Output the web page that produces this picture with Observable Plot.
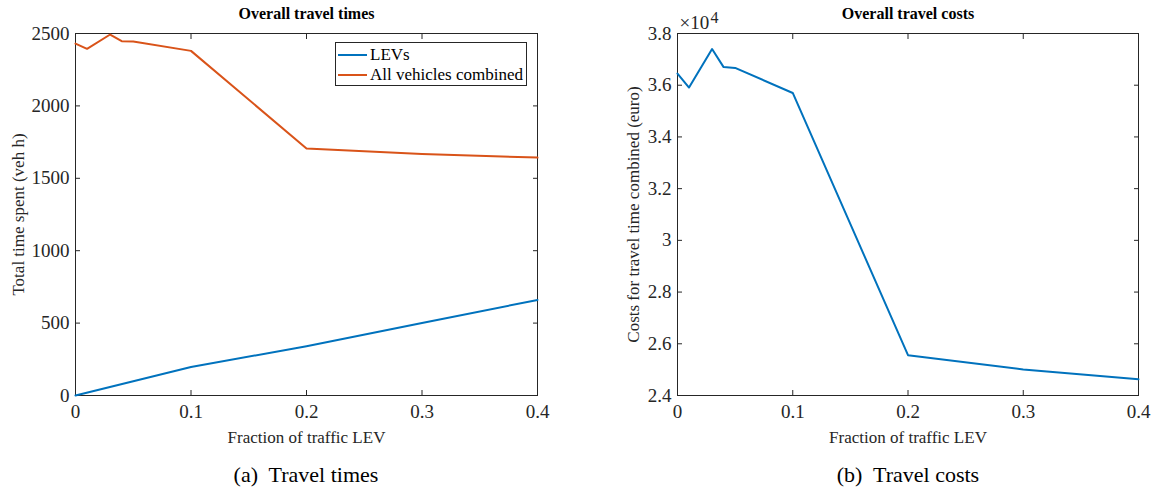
<!DOCTYPE html>
<html>
<head>
<meta charset="utf-8">
<script src="https://cdn.jsdelivr.net/npm/d3@7"></script>
<script src="https://cdn.jsdelivr.net/npm/@observablehq/plot@0.6"></script>
<style>
  body { margin: 0; background: #fff; font-family: "Liberation Serif", "DejaVu Serif", serif; }
  #wrap { position: relative; width: 1151px; height: 491px; overflow: hidden; }
  #wrap svg { font-family: "Liberation Serif", serif !important; color: #262626 !important; background: transparent !important; overflow: visible !important; }
  .panel { position: absolute; top: 0; }
  .caption { position: absolute; top: 462px; width: 300px; text-align: center; font-size: 22px; color: #000; white-space: pre; }
  .legend { position: absolute; left: 335px; top: 42px; width: 190px; height: 42px; border: 1px solid #262626; background: #fff; font-size: 17px; color: #000; }
  .legend .row { position: absolute; left: 2px; height: 20px; display: flex; align-items: center; white-space: nowrap; }
  .legend .sw { width: 29px; height: 0; border-top: 2px solid; margin-right: 3px; }
</style>
</head>
<body>
<div id="wrap">
  <div class="panel" id="times" style="left:0"></div>
  <div class="panel" id="costs" style="left:575px"></div>
  <div class="legend">
    <div class="row" style="top:2px"><span class="sw" style="border-color:#0072BD"></span>LEVs</div>
    <div class="row" style="top:22px"><span class="sw" style="border-color:#D95319"></span>All vehicles combined</div>
  </div>
  <div class="caption" style="left:156px">(a)  Travel times</div>
  <div class="caption" style="left:758px">(b)  Travel costs</div>
</div>
<script>
// Fraction of traffic that is LEV (x values)
const fraction = [0, 0.01, 0.03, 0.04, 0.05, 0.1, 0.2, 0.3, 0.4];
// Total time spent, all vehicles combined (veh h)
const allVehiclesTime = [2430, 2394, 2493, 2447, 2445, 2380, 1706, 1668, 1643];
// Total time spent by LEVs (veh h)
const levFraction = [0, 0.1, 0.2, 0.3, 0.4];
const levTime = [0, 197, 340, 500, 660];
// Costs for travel time combined (euro)
const combinedCost = [36450, 35910, 37400, 36700, 36670, 35700, 25560, 25010, 24630];

// Tick values
const xTicks = [0, 0.1, 0.2, 0.3, 0.4];
const timeTicks = [0, 500, 1000, 1500, 2000, 2500];
const costTicks = [24000, 26000, 28000, 30000, 32000, 34000, 36000, 38000];

const axisColor = "#262626";
const blue = "#0072BD";
const orange = "#D95319";
const serif = "Liberation Serif";

const timesRows = fraction.map((f, i) => ({f, v: allVehiclesTime[i]}));
const levRows = levFraction.map((f, i) => ({f, v: levTime[i]}));
const costRows = fraction.map((f, i) => ({f, v: combinedCost[i]}));

// Box axes with inward ticks on all four sides, plus centred axis titles
function boxAxes(yTicks, yFormat, xLabel, yLabel, yLabelDx) {
  return [
    Plot.frame({stroke: axisColor, strokeWidth: 1}),
    Plot.axisX(xTicks, {anchor: "bottom", tickSize: -5, tickPadding: 14, tickFormat: d => String(d),
      fontFamily: serif, fontSize: 19, label: null}),
    Plot.axisX(xTicks, {anchor: "top", tickSize: -5, tickFormat: () => "", label: null}),
    Plot.axisY(yTicks, {anchor: "left", tickSize: -5, tickPadding: 11, tickFormat: yFormat,
      fontFamily: serif, fontSize: 19, label: null}),
    Plot.axisY(yTicks, {anchor: "right", tickSize: -5, tickFormat: () => "", label: null}),
    Plot.text([xLabel], {frameAnchor: "bottom", dy: 42, textAnchor: "middle", lineAnchor: "middle",
      fontFamily: serif, fontSize: 17, fill: axisColor}),
    Plot.text([yLabel], {frameAnchor: "left", dx: yLabelDx, rotate: -90, textAnchor: "middle", lineAnchor: "middle",
      fontFamily: serif, fontSize: 17, fill: axisColor})
  ];
}

const timesPlot = Plot.plot({
  width: 575, height: 450,
  marginLeft: 75, marginRight: 38, marginTop: 33, marginBottom: 55,
  x: {domain: [0, 0.4]},
  y: {domain: [0, 2500]},
  marks: [
    ...boxAxes(timeTicks, d => String(d), "Fraction of traffic LEV", "Total time spent (veh h)", -57),
    Plot.line(levRows, {x: "f", y: "v", stroke: blue, strokeWidth: 2}),
    Plot.line(timesRows, {x: "f", y: "v", stroke: orange, strokeWidth: 2}),
    Plot.text(["Overall travel times"], {frameAnchor: "top", dy: -20, lineAnchor: "middle", fontFamily: serif, fontWeight: "bold", fontSize: 16, fill: "#000"})
  ]
});
document.getElementById("times").append(timesPlot);

const costsPlot = Plot.plot({
  width: 576, height: 450,
  marginLeft: 102, marginRight: 13, marginTop: 33, marginBottom: 55,
  x: {domain: [0, 0.4]},
  y: {domain: [24000, 38000]},
  marks: [
    ...boxAxes(costTicks, d => String(+(d / 1e4).toFixed(1)), "Fraction of traffic LEV", "Costs for travel time combined (euro)", -44),
    Plot.line(costRows, {x: "f", y: "v", stroke: blue, strokeWidth: 2}),
    Plot.text(["Overall travel costs"], {frameAnchor: "top", dy: -20, lineAnchor: "middle", fontFamily: serif, fontWeight: "bold", fontSize: 16, fill: "#000"}),
    Plot.text(["×10"], {frameAnchor: "top-left", dx: 2, dy: -11, textAnchor: "start", lineAnchor: "middle", fontFamily: serif, fontSize: 19, fill: axisColor}),
    Plot.text(["4"], {frameAnchor: "top-left", dx: 33, dy: -16, textAnchor: "start", lineAnchor: "middle", fontFamily: serif, fontSize: 16, fill: axisColor})
  ]
});
document.getElementById("costs").append(costsPlot);
</script>
</body>
</html>
